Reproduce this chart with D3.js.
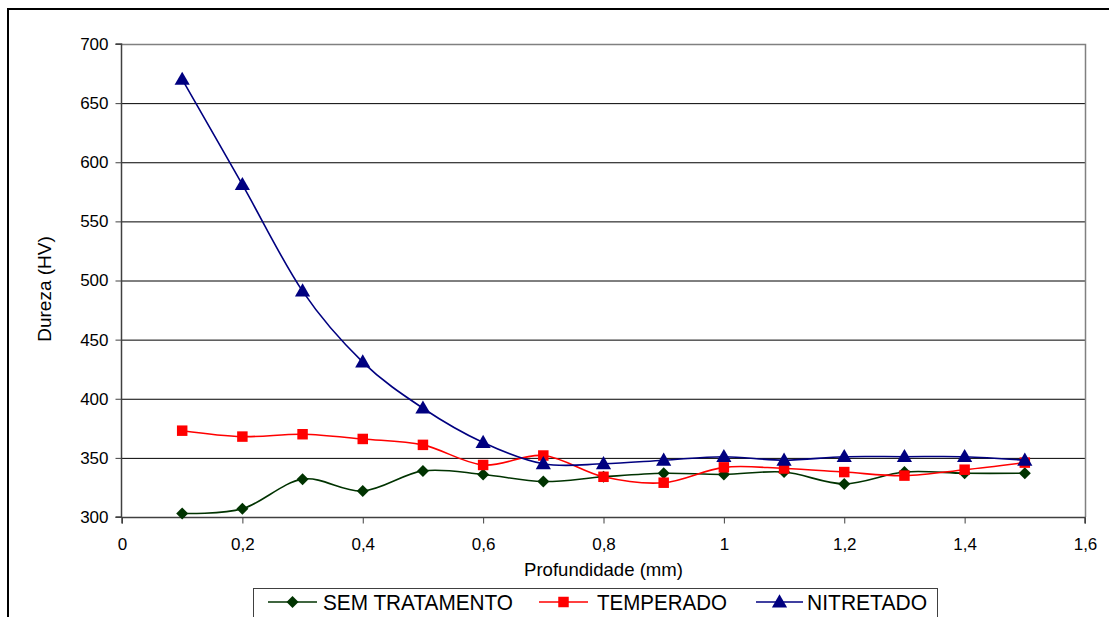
<!DOCTYPE html>
<html>
<head>
<meta charset="utf-8">
<script src="https://cdn.jsdelivr.net/npm/d3@7"></script>
<style>
  body { margin: 0; background: #fff; }
  text { font-family: "Liberation Sans", Arial, sans-serif; fill: #000; }
</style>
</head>
<body>
<div id="chart"></div>
<script>
// depth (mm) and hardness (HV)
var depth = [0.1, 0.2, 0.3, 0.4, 0.5, 0.6, 0.7, 0.8, 0.9, 1.0, 1.1, 1.2, 1.3, 1.4, 1.5]
var semTratamento = [303, 307, 332, 322, 339, 336, 330, 334, 337, 336, 338, 328, 338, 337, 337]
var temperado = [373, 368, 370, 366, 361, 344, 352, 334, 329, 342, 341, 338, 335, 340, 346]
var nitretado = [670, 581, 491, 431, 392, 363, 345, 345, 348, 351, 348, 351, 351, 351, 348]
var seriesNames = ["SEM TRATAMENTO", "TEMPERADO", "NITRETADO"]
var yTicks = [300, 350, 400, 450, 500, 550, 600, 650, 700]
var xTicks = [0, 0.2, 0.4, 0.6, 0.8, 1.0, 1.2, 1.4, 1.6]

var W = 1109, H = 617
var plot = {left: 122, right: 1085, top: 44, bottom: 517}

var svg = d3.select("#chart")
  .append("svg")
  .attr("width", W)
  .attr("height", H)

// outer frame (runs off the right and bottom of the picture)
svg.append("rect")
  .attr("x", 8).attr("y", 9)
  .attr("width", 1300).attr("height", 800)
  .attr("fill", "none")
  .attr("stroke", "#000")
  .attr("stroke-width", 2)

var x = d3.scaleLinear()
  .domain([0, 1.6])
  .range([plot.left, plot.right])

var y = d3.scaleLinear()
  .domain([300, 700])
  .range([plot.bottom, plot.top])

// gridlines
svg.selectAll(".grid")
  .data(yTicks.filter(function(d){return d > 300 && d < 700}))
  .enter()
  .append("line")
  .attr("class", "grid")
  .attr("x1", plot.left).attr("x2", plot.right)
  .attr("y1", function(d){return y(d) + 0.5})
  .attr("y2", function(d){return y(d) + 0.5})
  .attr("stroke", "#000")
  .attr("stroke-width", 1)

// plot border top + right (gray)
svg.append("path")
  .attr("d", "M" + plot.left + "," + (plot.top + 0.5) + "H" + (plot.right + 0.5) + "V" + plot.bottom)
  .attr("fill", "none")
  .attr("stroke", "#808080")
  .attr("stroke-width", 1.5)

var fmtX = function(d){ return String(+d.toFixed(1)).replace(".", ",") }

var yAxis = svg.append("g")
  .attr("transform", "translate(" + (plot.left - 0.5) + ",0)")
  .call(d3.axisLeft(y).tickValues(yTicks).tickSize(6).tickPadding(7).tickFormat(d3.format("d")))

var xAxis = svg.append("g")
  .attr("transform", "translate(0," + (plot.bottom + 0.5) + ")")
  .call(d3.axisBottom(x).tickValues(xTicks).tickSize(6).tickPadding(14).tickFormat(fmtX))

;[yAxis, xAxis].forEach(function(a){
  a.select(".domain").attr("stroke", "#404040").attr("stroke-width", 1.5)
  a.selectAll(".tick line").attr("stroke", "#404040")
  a.selectAll(".tick text")
    .style("font-family", "'Liberation Sans', Arial, sans-serif")
    .style("font-size", "17px")
    .attr("fill", "#000")
})
yAxis.select(".domain").attr("d", "M-6," + plot.top + "H0V" + plot.bottom + "H-6")
xAxis.select(".domain").attr("d", "M" + plot.left + ",6V0H" + plot.right + "V6")

// axis titles
svg.append("text")
  .attr("x", (plot.left + plot.right) / 2)
  .attr("y", 576)
  .attr("text-anchor", "middle")
  .attr("textLength", 159)
  .attr("lengthAdjust", "spacingAndGlyphs")
  .style("font-size", "19px")
  .text("Profundidade (mm)")

svg.append("text")
  .attr("transform", "translate(51,289) rotate(-90)")
  .attr("text-anchor", "middle")
  .style("font-size", "19px")
  .text("Dureza (HV)")

// series; diamond = square turned 45deg
var series = [
  {name: seriesNames[0], values: semTratamento, color: "#003300", shape: d3.symbolSquare, size: 72, rot: 45, dy: 0},
  {name: seriesNames[1], values: temperado, color: "#ff0000", shape: d3.symbolSquare, size: 110, rot: 0, dy: 0},
  {name: seriesNames[2], values: nitretado, color: "#000080", shape: d3.symbolTriangle, size: 100, rot: 0, dy: 1}
]

var line = d3.line()
  .x(function(d){return x(d[0])})
  .y(function(d){return y(d[1])})
  .curve(d3.curveCardinal.tension(0))

function markAt(s, px, py){
  return "translate(" + px + "," + (py + s.dy) + ") rotate(" + s.rot + ")"
}

series.forEach(function(s){
  var pts = depth.map(function(d, i){return [d, s.values[i]]})
  var g = svg.append("g")
  g.append("path")
    .datum(pts)
    .attr("d", line)
    .attr("fill", "none")
    .attr("stroke", s.color)
    .attr("stroke-width", 1.6)
  g.selectAll(".mark")
    .data(pts)
    .enter()
    .append("path")
    .attr("class", "mark")
    .attr("transform", function(d){return markAt(s, x(d[0]), y(d[1]))})
    .attr("d", d3.symbol().type(s.shape).size(s.size))
    .attr("fill", s.color)
})

// legend
svg.append("rect")
  .attr("x", 253.5).attr("y", 588.5)
  .attr("width", 684).attr("height", 60)
  .attr("fill", "#fff")
  .attr("stroke", "#404040")
  .attr("stroke-width", 1)

var legendItems = [
  {x1: 268, x2: 317, tx: 323, tl: 190},
  {x1: 539, x2: 588, tx: 597, tl: 130},
  {x1: 756, x2: 803, tx: 807, tl: 120}
]

legendItems.forEach(function(l, i){
  var s = series[i]
  var ly = 602
  svg.append("line")
    .attr("x1", l.x1).attr("x2", l.x2)
    .attr("y1", ly).attr("y2", ly)
    .attr("stroke", s.color)
    .attr("stroke-width", 1.6)
  svg.append("path")
    .attr("transform", markAt(s, (l.x1 + l.x2) / 2, ly))
    .attr("d", d3.symbol().type(s.shape).size(s.size))
    .attr("fill", s.color)
  svg.append("text")
    .attr("x", l.tx)
    .attr("y", 610)
    .attr("textLength", l.tl)
    .attr("lengthAdjust", "spacingAndGlyphs")
    .style("font-size", "22px")
    .text(s.name)
})
</script>
</body>
</html>
